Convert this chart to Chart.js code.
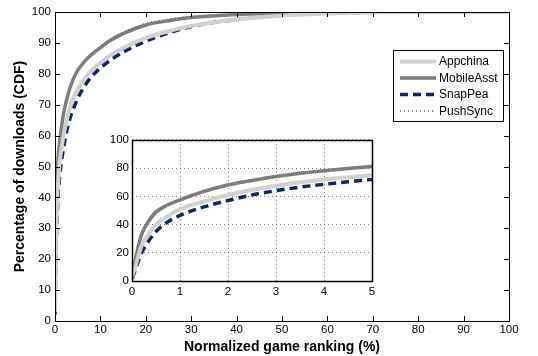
<!DOCTYPE html>
<html>
<head>
<meta charset="utf-8">
<script src="https://cdn.jsdelivr.net/npm/chart.js@4/dist/chart.umd.min.js"></script>
<style>
    body { margin: 0; background: #fff; }
    #wrap { position: relative; width: 538px; height: 356px; }
    #main { position: absolute; left: 0; top: 0; }
    #inset { position: absolute; left: 100px; top: 130px; background: #fff; }
</style>
</head>
<body>
<div id="wrap">
    <canvas id="main" width="538" height="356"></canvas>
    <canvas id="inset" width="290" height="170"></canvas>
</div>
<script>
// normalized game ranking (%)
const rankPct = [0, 0.05, 0.1, 0.2, 0.3, 0.5, 0.75, 1, 1.5, 2, 2.5, 3, 3.5, 4, 4.5, 5, 6, 7, 8, 10, 12, 15, 20, 25, 30, 40, 50, 60, 70, 80, 90, 100];

// percentage of downloads (CDF)
const appchina   = [3, 8, 14, 25, 31, 40, 46, 51, 56.5, 61, 64.5, 67.5, 70, 72, 73.6, 75, 77.4, 79.4, 81, 83.6, 85.8, 88.3, 91.6, 93.8, 95.5, 97.6, 98.8, 99.5, 99.9, 100, 100, 100];
const mobileAsst = [5, 12, 20, 33, 40, 49, 54, 57.5, 63.5, 68, 71.2, 74, 76.3, 78.2, 79.8, 81.1, 83.1, 84.8, 86.2, 88.5, 90.6, 93, 95.8, 97.2, 98.2, 99.2, 99.6, 99.9, 100, 100, 100, 100];
const snapPea    = [2, 6, 11, 20, 26, 35, 42, 46.5, 52.5, 57, 61, 64, 66.5, 68.5, 70.3, 72, 74.8, 77.1, 79, 81.9, 84.2, 87, 90.6, 93.2, 95.3, 97.6, 99, 99.6, 99.9, 100, 100, 100];
const pushSync   = [5, 12, 19, 31, 38, 47, 53, 56.5, 63, 68, 71.5, 74.5, 76.8, 78.7, 80.3, 81.6, 83.6, 85.3, 86.7, 89, 91.2, 93.5, 96.3, 97.7, 98.6, 99.4, 99.8, 100, 100, 100, 100, 100];

const mainXTicks = [0, 10, 20, 30, 40, 50, 60, 70, 80, 90, 100];
const mainYTicks = [0, 10, 20, 30, 40, 50, 60, 70, 80, 90, 100];
const insetXTicks = [0, 1, 2, 3, 4, 5];
const insetYTicks = [0, 20, 40, 60, 80, 100];

const FONT = "'Liberation Sans', Arial, sans-serif";

function points(ys) {
    return rankPct.map((x, i) => ({ x: x, y: ys[i] }));
}

function makeDatasets() {
    return [
        { label: 'Appchina', data: points(appchina), borderColor: 'rgb(212,209,202)', borderWidth: 4 },
        { label: 'MobileAsst', data: points(mobileAsst), borderColor: 'rgb(125,125,125)', borderWidth: 3.5 },
        { label: 'SnapPea', data: points(snapPea), borderColor: 'rgb(12,38,110)', borderWidth: 3.5, borderDash: [8, 5] },
        { label: 'PushSync', data: points(pushSync), borderColor: '#000', borderWidth: 1, borderDash: [1, 3] },
    ].map((d) => Object.assign(d, { pointRadius: 0, fill: false, cubicInterpolationMode: 'monotone' }));
}

function fixedTicks(values) {
    return function (scale) {
        scale.ticks = values.map((v) => ({ value: v }));
    };
}

// box around the plot area, with inward tick marks on all four sides
const boxPlugin = {
    id: 'box',
    afterDraw(chart, args, opts) {
        const { ctx, chartArea: a, scales } = chart;
        ctx.save();
        ctx.strokeStyle = '#000';
        ctx.lineWidth = 1;
        if (opts.ticks) {
            ctx.beginPath();
            scales.x.ticks.forEach((t) => {
                const px = Math.round(scales.x.getPixelForValue(t.value)) + 0.5;
                ctx.moveTo(px, a.bottom); ctx.lineTo(px, a.bottom - 5);
                ctx.moveTo(px, a.top); ctx.lineTo(px, a.top + 5);
            });
            scales.y.ticks.forEach((t) => {
                const py = Math.round(scales.y.getPixelForValue(t.value)) + 0.5;
                ctx.moveTo(a.left, py); ctx.lineTo(a.left + 5, py);
                ctx.moveTo(a.right, py); ctx.lineTo(a.right - 5, py);
            });
            ctx.stroke();
        }
        ctx.lineWidth = opts.width || 1;
        ctx.strokeRect(Math.round(a.left) + 0.5, Math.round(a.top) + 0.5,
            Math.round(a.right - a.left), Math.round(a.bottom - a.top));
        ctx.restore();
    }
};

// legend box, drawn at the top right like the original figure
const legendPlugin = {
    id: 'boxLegend',
    afterDraw(chart) {
        const ctx = chart.ctx;
        ctx.save();
        ctx.fillStyle = '#fff';
        ctx.fillRect(393, 50, 110, 71);
        ctx.strokeStyle = '#000';
        ctx.lineWidth = 1;
        ctx.strokeRect(393.5, 50.5, 110, 71);
        ctx.font = '12px ' + FONT;
        ctx.textBaseline = 'middle';
        chart.data.datasets.forEach((ds, i) => {
            const y = 61.5 + i * 16.5;
            ctx.beginPath();
            ctx.strokeStyle = ds.borderColor;
            ctx.lineWidth = ds.borderWidth;
            ctx.setLineDash(ds.borderDash || []);
            ctx.moveTo(400, y);
            ctx.lineTo(436, y);
            ctx.stroke();
            ctx.setLineDash([]);
            ctx.fillStyle = '#000';
            ctx.fillText(ds.label, 439, y + 0.5);
        });
        ctx.restore();
    }
};

new Chart(document.getElementById('main'), {
    type: 'line',
    data: { datasets: makeDatasets() },
    options: {
        responsive: false,
        animation: false,
        layout: { padding: { left: 0, right: 29, top: 12, bottom: 0 } },
        plugins: { legend: { display: false }, tooltip: { enabled: false }, box: { ticks: true } },
        scales: {
            x: {
                type: 'linear', min: 0, max: 100,
                afterBuildTicks: fixedTicks(mainXTicks),
                afterFit: (s) => { s.height = 35; },
                grid: { display: false, drawTicks: false },
                border: { display: false },
                ticks: { color: '#000', padding: 2, maxRotation: 0, font: { family: FONT, size: 11.5 } },
                title: {
                    display: true, text: 'Normalized game ranking (%)', color: '#000',
                    padding: { top: 0, bottom: 0 },
                    font: { family: FONT, size: 14, weight: 'bold' }
                }
            },
            y: {
                min: 0, max: 100,
                afterBuildTicks: fixedTicks(mainYTicks),
                afterFit: (s) => { s.width = 55; },
                grid: { display: false, drawTicks: false },
                border: { display: false },
                ticks: { color: '#000', padding: 4, font: { family: FONT, size: 11.5 } },
                title: {
                    display: true, text: 'Percentage of downloads (CDF)', color: '#000',
                    padding: { top: 12, bottom: 0 },
                    font: { family: FONT, size: 14, weight: 'bold' }
                }
            }
        }
    },
    plugins: [boxPlugin, legendPlugin]
});

new Chart(document.getElementById('inset'), {
    type: 'line',
    data: { datasets: makeDatasets() },
    options: {
        responsive: false,
        animation: false,
        layout: { padding: { left: 0, right: 18, top: 7, bottom: 0 } },
        plugins: { legend: { display: false }, tooltip: { enabled: false }, box: { ticks: false, width: 1.5 } },
        scales: {
            x: {
                type: 'linear', min: 0, max: 5,
                afterBuildTicks: fixedTicks(insetXTicks),
                afterFit: (s) => { s.height = 19; },
                grid: { color: '#777', lineWidth: 1, drawTicks: false },
                border: { display: false, dash: [1, 3] },
                ticks: { color: '#000', padding: 4, maxRotation: 0, font: { family: FONT, size: 11.5 } }
            },
            y: {
                min: 0, max: 100,
                afterBuildTicks: fixedTicks(insetYTicks),
                afterFit: (s) => { s.width = 32; },
                grid: { color: '#777', lineWidth: 1, drawTicks: false },
                border: { display: false, dash: [1, 3] },
                ticks: { color: '#000', padding: 3, font: { family: FONT, size: 11.5 } }
            }
        }
    },
    plugins: [boxPlugin]
});
</script>
</body>
</html>
